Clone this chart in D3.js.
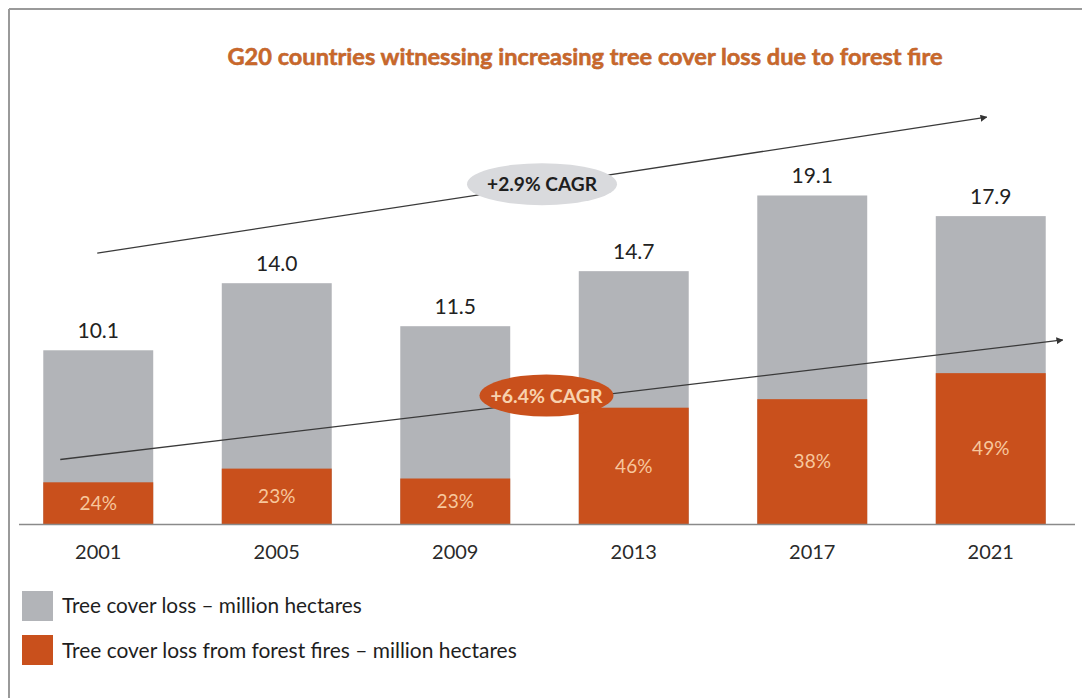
<!DOCTYPE html>
<html>
<head>
<meta charset="utf-8">
<script src="https://cdn.jsdelivr.net/npm/d3@7"></script>
<style>
  html, body { margin: 0; padding: 0; background: #fff; }
  svg { display: block; }
  text { font-family: Lato, "Open Sans", sans-serif; }
</style>
</head>
<body>
<svg id="chart" width="1082" height="698"></svg>
<script>
// Tree cover loss in G20 countries (million hectares) and the share lost to forest fires
const years = ["2001", "2005", "2009", "2013", "2017", "2021"];
const totalLoss = [10.1, 14.0, 11.5, 14.7, 19.1, 17.9];
const fireShare = [24, 23, 23, 46, 38, 49];
const cagrLabels = ["+2.9% CAGR", "+6.4% CAGR"];
const legendLabels = [
  "Tree cover loss \u2013 million hectares",
  "Tree cover loss from forest fires \u2013 million hectares"
];
const titleText = "G20 countries witnessing increasing tree cover loss due to forest fire";

const GREY = "#b2b4b8";
const ORANGE = "#c9501c";

const svg = d3.select("#chart");

// shrink a text element's font size until it spans the given width
function fitWidth(sel, width) {
  const node = sel.node();
  const size = parseFloat(sel.attr("font-size"));
  const len = node.getComputedTextLength();
  if (len > 0) sel.attr("font-size", (size * width / len).toFixed(2));
  return sel;
}

// frame lines (top and left)
svg.append("line").attr("x1", 9).attr("y1", 9).attr("x2", 1082).attr("y2", 9)
  .attr("stroke", "#9a9a9a").attr("stroke-width", 2);
svg.append("line").attr("x1", 9).attr("y1", 9).attr("x2", 9).attr("y2", 698)
  .attr("stroke", "#9a9a9a").attr("stroke-width", 2);

const x = d3.scaleBand().domain(years).range([9, 1080])
  .paddingInner(0.384).paddingOuter(0.192);
const y = d3.scaleLinear().domain([0, 10]).range([524, 352]);

const rows = years.map((yr, i) => ({
  year: yr,
  total: totalLoss[i],
  share: fireShare[i],
  fire: totalLoss[i] * fireShare[i] / 100
}));

// title
const title = svg.append("text")
  .attr("x", 585).attr("y", 65)
  .attr("text-anchor", "middle")
  .attr("font-size", 22).attr("font-weight", "bold")
  .attr("fill", "#c9672a")
  .style("paint-order", "stroke")
  .attr("stroke", "#9a4a1a").attr("stroke-width", 0.5)
  .text(titleText);
fitWidth(title, 715);

// total bars
svg.append("g").selectAll("rect").data(rows).join("rect")
  .attr("x", d => x(d.year)).attr("width", x.bandwidth())
  .attr("y", d => y(d.total)).attr("height", d => y(0) - y(d.total))
  .attr("fill", GREY);

// fire portion
svg.append("g").selectAll("rect").data(rows).join("rect")
  .attr("x", d => x(d.year)).attr("width", x.bandwidth())
  .attr("y", d => y(d.fire)).attr("height", d => y(0) - y(d.fire))
  .attr("fill", ORANGE);

// baseline axis
const xAxis = d3.axisBottom(x).tickSize(0).tickPadding(21);
const axisG = svg.append("g").attr("transform", `translate(0,${y(0)})`).call(xAxis);
axisG.select(".domain").attr("d", "M19,0.5H1075").attr("stroke", "#8a8a8a").attr("stroke-width", 1.5);
axisG.selectAll("text")
  .attr("font-size", 20).attr("fill", "#2a2a2a")
  .style("font-family", "Lato, 'Open Sans', sans-serif");

// total value labels
svg.append("g").selectAll("text").data(rows).join("text")
  .attr("x", d => x(d.year) + x.bandwidth() / 2)
  .attr("y", d => y(d.total) - 12)
  .attr("text-anchor", "middle")
  .attr("font-size", 21).attr("fill", "#222")
  .text(d => d.total.toFixed(1));

// share labels inside fire segment
svg.append("g").selectAll("text").data(rows).join("text")
  .attr("x", d => x(d.year) + x.bandwidth() / 2)
  .attr("y", d => (y(d.fire) + y(0)) / 2)
  .attr("dy", "0.36em")
  .attr("text-anchor", "middle")
  .attr("font-size", 19).attr("fill", "#f7c79c")
  .text(d => d.share + "%");

// trend arrows
const defs = svg.append("defs");
defs.append("marker").attr("id", "arrow")
  .attr("viewBox", "0 0 10 10").attr("refX", 9).attr("refY", 5)
  .attr("markerWidth", 7).attr("markerHeight", 7).attr("orient", "auto")
  .attr("markerUnits", "userSpaceOnUse")
  .append("path").attr("d", "M0,0L10,5L0,10z").attr("fill", "#333");

const first = years[0], last = years[years.length - 1];
const trends = [
  { x1: x(first) + x.bandwidth() / 2 - 1, v1: 15.75, x2: x(last) + x.bandwidth() / 2 - 4, v2: 23.65,
    label: cagrLabels[0], fill: "#d9dadd", color: "#1e1e1e", rx: 75, ry: 21, t: 0.5, w: 110 },
  { x1: x(first) + 17, v1: 3.75, x2: x(last) + x.bandwidth() + 17, v2: 10.7,
    label: cagrLabels[1], fill: ORANGE, color: "#f8d2ae", rx: 67, ry: 21, t: 0.485, w: 112 }
];

trends.forEach(tr => {
  svg.append("line")
    .attr("x1", tr.x1).attr("y1", y(tr.v1))
    .attr("x2", tr.x2).attr("y2", y(tr.v2))
    .attr("stroke", "#3a3a3a").attr("stroke-width", 1.3)
    .attr("marker-end", "url(#arrow)");
});

trends.forEach((tr, i) => {
  const cx = tr.x1 + (tr.x2 - tr.x1) * tr.t;
  const cy = y(tr.v1) + (y(tr.v2) - y(tr.v1)) * tr.t - (i === 0 ? 1 : 6);
  svg.append("ellipse").attr("cx", cx).attr("cy", cy)
    .attr("rx", tr.rx).attr("ry", tr.ry).attr("fill", tr.fill);
  const t = svg.append("text").attr("x", cx).attr("y", cy).attr("dy", "0.36em")
    .attr("text-anchor", "middle")
    .attr("font-size", 19).attr("font-weight", "bold").attr("fill", tr.color)
    .text(tr.label);
  fitWidth(t, tr.w);
});

// legend
const legend = svg.append("g").attr("transform", "translate(22,591)");
const legendColors = [GREY, ORANGE];
const legendWidths = [300, 455];
legendLabels.forEach((lab, i) => {
  const g = legend.append("g").attr("transform", `translate(0,${i * 44})`);
  g.append("rect").attr("width", 31).attr("height", 30).attr("fill", legendColors[i]);
  const t = g.append("text").attr("x", 40).attr("y", 15).attr("dy", "0.36em")
    .attr("font-size", 19).attr("fill", "#1e1e1e").text(lab);
  fitWidth(t, legendWidths[i]);
});
</script>
</body>
</html>
